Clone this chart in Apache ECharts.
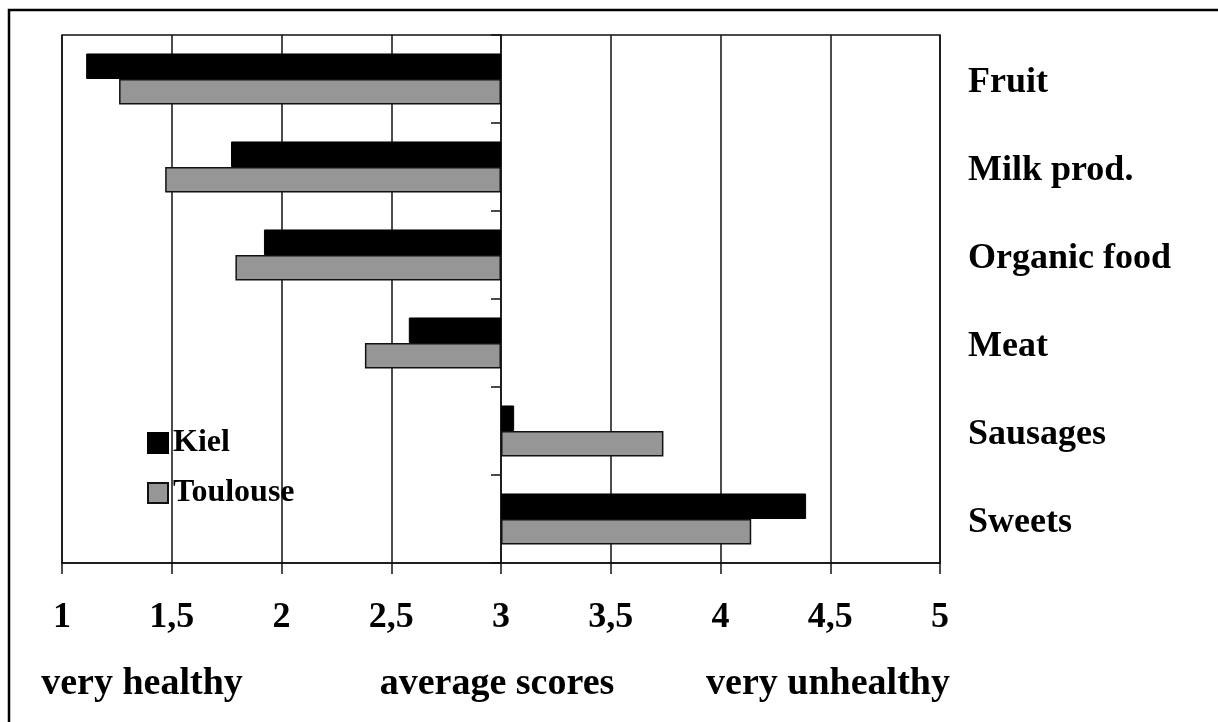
<!DOCTYPE html>
<html lang="en">
  <head>
    <meta charset="UTF-8" />
    <title>Food ratings</title>
    <script src="https://cdn.jsdelivr.net/npm/echarts@6/dist/echarts.min.js"></script>
    <style>
      body { margin: 0; background: #fff; }
    </style>
  </head>
  <body>
    <div id="main" style="width: 1218px; height: 722px"></div>

    <script>
      const myEchart = echarts.init(document.getElementById("main"));

      // data (bars start at the scale midpoint 3)
      const categories = ["Fruit", "Milk prod.", "Organic food", "Meat", "Sausages", "Sweets"];
      const kiel = [1.11, 1.77, 1.92, 2.58, 3.06, 4.39];
      const toulouse = [1.26, 1.47, 1.79, 2.38, 3.74, 4.14];
      const xTicks = [1, 1.5, 2, 2.5, 3, 3.5, 4, 4.5, 5];
      const baseline = 3;

      const font = "'Liberation Serif', 'Times New Roman', serif";

      // stacked: invisible part up to the lower end, visible part to the other end
      const lowPart = (arr) => arr.map((v) => Math.min(v, baseline));
      const barPart = (arr) => arr.map((v) => +Math.abs(v - baseline).toFixed(2));

      let options = {
        animation: false,
        textStyle: { fontFamily: font },
        grid: {
          left: 62,
          right: 278,
          top: 35,
          bottom: 159,
          show: true,
          borderColor: "#111",
          borderWidth: 1.5,
        },
        legend: {
          data: ["Kiel", "Toulouse"],
          orient: "vertical",
          left: 142,
          top: 422,
          icon: "rect",
          itemWidth: 20,
          itemHeight: 20,
          itemGap: 18,
          textStyle: {
            fontFamily: font,
            fontSize: 32,
            fontWeight: "bold",
            color: "#000",
          },
        },
        xAxis: {
          type: "value",
          min: xTicks[0],
          max: xTicks[xTicks.length - 1],
          interval: 0.5,
          axisLine: { show: true, lineStyle: { color: "#111", width: 1.5 } },
          axisTick: { show: true, length: 11, lineStyle: { color: "#111", width: 1.5 } },
          splitLine: { show: true, lineStyle: { color: "#111", width: 1.5 } },
          axisLabel: {
            margin: 37,
            fontFamily: font,
            fontSize: 36,
            fontWeight: "bold",
            color: "#000",
            formatter: (v) => String(v).replace(".", ","),
          },
        },
        yAxis: [
          {
            type: "category",
            data: categories,
            inverse: true,
            position: "right",
            axisLine: { show: false },
            axisTick: { show: false },
            axisLabel: {
              margin: 28,
              formatter: "{c|{value}}",
              rich: {
                c: {
                  padding: [8, 0, 0, 0],
                  fontFamily: font,
                  fontSize: 36,
                  fontWeight: "bold",
                  color: "#000",
                },
              },
            },
          },
          {
            // the axis line at score 3 with its ticks
            type: "category",
            data: categories,
            inverse: true,
            position: "left",
            offset: -439,
            axisLine: { show: true, lineStyle: { color: "#111", width: 1.5 } },
            axisTick: { show: true, length: 10, lineStyle: { color: "#111", width: 1.5 } },
            axisLabel: { show: false },
          },
        ],
        series: [
          {
            name: "kielBase",
            type: "bar",
            stack: "k",
            data: lowPart(kiel),
            itemStyle: { color: "transparent" },
            barGap: "0%",
            barCategoryGap: "42%",
            silent: true,
          },
          {
            name: "Kiel",
            type: "bar",
            stack: "k",
            data: barPart(kiel),
            itemStyle: { color: "#000", borderColor: "#000", borderWidth: 1 },
          },
          {
            name: "toulouseBase",
            type: "bar",
            stack: "t",
            data: lowPart(toulouse),
            itemStyle: { color: "transparent" },
            silent: true,
          },
          {
            name: "Toulouse",
            type: "bar",
            stack: "t",
            data: barPart(toulouse),
            itemStyle: { color: "#969696", borderColor: "#111", borderWidth: 1.5 },
          },
        ],
        graphic: [
          {
            type: "rect",
            shape: { x: 9, y: 10, width: 1240, height: 740 },
            style: { fill: "none", stroke: "#000", lineWidth: 2.5 },
          },
          {
            type: "text",
            x: 142,
            y: 684,
            style: {
              text: "very healthy",
              font: "bold 38px " + font,
              fill: "#000",
              align: "center",
              verticalAlign: "middle",
            },
          },
          {
            type: "text",
            x: 497,
            y: 684,
            style: {
              text: "average scores",
              font: "bold 38px " + font,
              fill: "#000",
              align: "center",
              verticalAlign: "middle",
            },
          },
          {
            type: "text",
            x: 828,
            y: 684,
            style: {
              text: "very unhealthy",
              font: "bold 38px " + font,
              fill: "#000",
              align: "center",
              verticalAlign: "middle",
            },
          },
        ],
      };

      myEchart.setOption(options);
    </script>
  </body>
</html>
